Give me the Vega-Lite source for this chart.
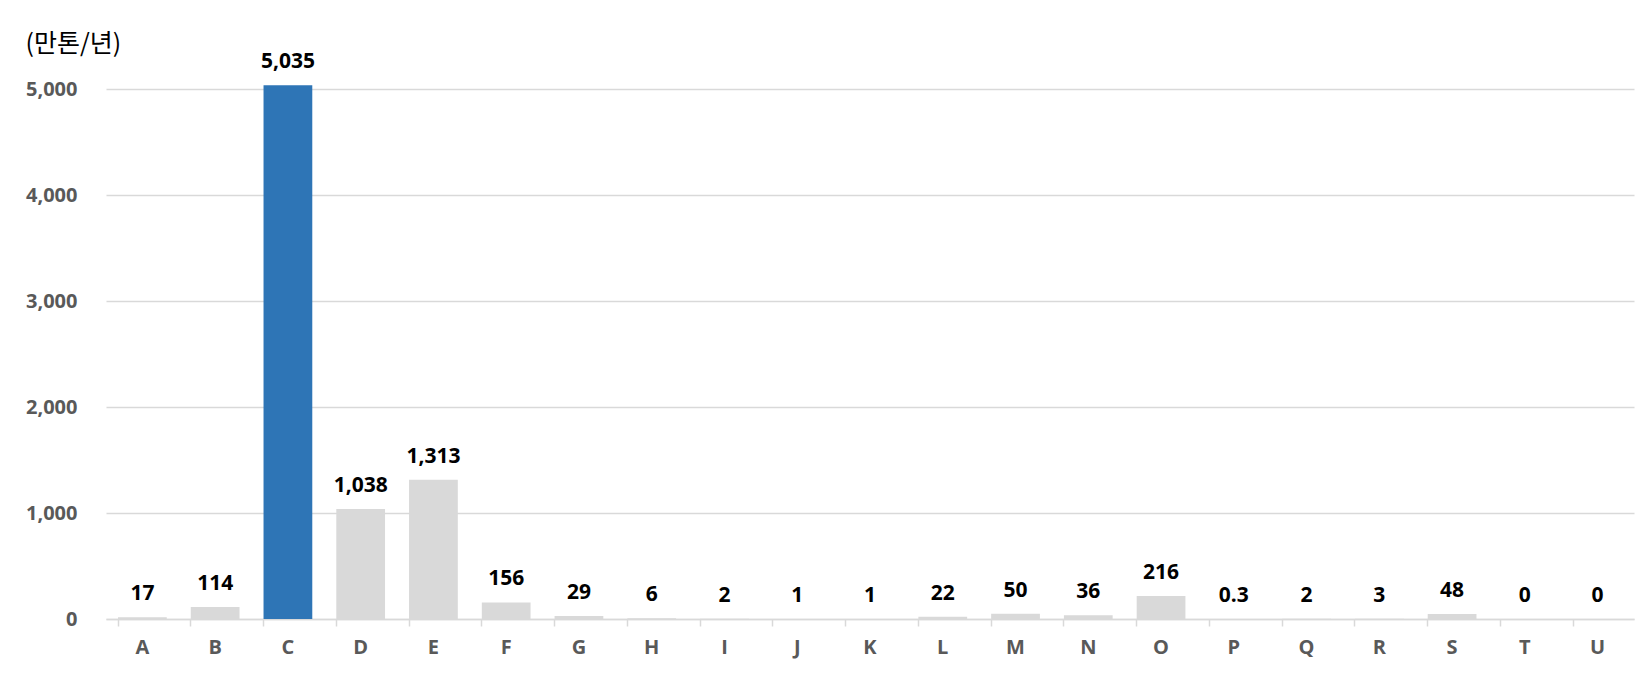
{
  "$schema": "https://vega.github.io/schema/vega-lite/v6.json",
  "width": 1528,
  "height": 530,
  "autosize": {"type": "none"},
  "padding": {"left": 106, "top": 89, "right": 13, "bottom": 59},
  "background": "white",
  "config": {
    "view": {"stroke": null},
    "font": "Open Sans"
  },
  "data": {
    "values": [
      {"cat": "A", "value": 17, "label": "17"},
      {"cat": "B", "value": 114, "label": "114"},
      {"cat": "C", "value": 5035, "label": "5,035"},
      {"cat": "D", "value": 1038, "label": "1,038"},
      {"cat": "E", "value": 1313, "label": "1,313"},
      {"cat": "F", "value": 156, "label": "156"},
      {"cat": "G", "value": 29, "label": "29"},
      {"cat": "H", "value": 6, "label": "6"},
      {"cat": "I", "value": 2, "label": "2"},
      {"cat": "J", "value": 1, "label": "1"},
      {"cat": "K", "value": 1, "label": "1"},
      {"cat": "L", "value": 22, "label": "22"},
      {"cat": "M", "value": 50, "label": "50"},
      {"cat": "N", "value": 36, "label": "36"},
      {"cat": "O", "value": 216, "label": "216"},
      {"cat": "P", "value": 0.3, "label": "0.3"},
      {"cat": "Q", "value": 2, "label": "2"},
      {"cat": "R", "value": 3, "label": "3"},
      {"cat": "S", "value": 48, "label": "48"},
      {"cat": "T", "value": 0, "label": "0"},
      {"cat": "U", "value": 0, "label": "0"}
    ]
  },
  "encoding": {
    "x": {
      "field": "cat",
      "type": "nominal",
      "sort": null,
      "scale": {"paddingInner": 0.33, "paddingOuter": 0.165},
      "axis": {
        "title": null,
        "labelAngle": 0,
        "labelFont": "Open Sans",
        "labelFontSize": 20,
        "labelFontWeight": "bold",
        "labelColor": "#595959",
        "labelPadding": 11,
        "domainColor": "#d9d9d9",
        "domainWidth": 1.5,
        "tickColor": "#d9d9d9",
        "tickWidth": 1.5,
        "tickSize": 7,
        "bandPosition": 0,
        "grid": false
      }
    },
    "y": {
      "field": "value",
      "type": "quantitative",
      "scale": {"domain": [0, 5000], "nice": false},
      "axis": {
        "values": [0, 1000, 2000, 3000, 4000, 5000],
        "format": ",.0f",
        "title": "(만톤/년)",
        "titleFont": "Noto Sans CJK KR",
        "titleFontSize": 25,
        "titleFontWeight": "normal",
        "titleColor": "#000000",
        "titleAngle": 0,
        "titleAlign": "left",
        "titleBaseline": "middle",
        "titleX": -81,
        "titleY": -46,
        "labelFont": "Open Sans",
        "labelFontSize": 20,
        "labelFontWeight": "bold",
        "labelColor": "#595959",
        "labelPadding": 29,
        "ticks": false,
        "domain": false,
        "grid": true,
        "gridColor": "#d9d9d9",
        "gridWidth": 1.5
      }
    }
  },
  "layer": [
    {
      "mark": {"type": "bar", "clip": false},
      "encoding": {
        "color": {
          "condition": {"test": "datum.cat === 'C'", "value": "#2e75b6"},
          "value": "#d9d9d9"
        }
      }
    },
    {
      "mark": {
        "type": "text",
        "baseline": "alphabetic",
        "dy": -17,
        "font": "Open Sans",
        "fontSize": 21,
        "fontWeight": "bold",
        "color": "#000000"
      },
      "encoding": {
        "text": {"field": "label", "type": "nominal"}
      }
    }
  ]
}
